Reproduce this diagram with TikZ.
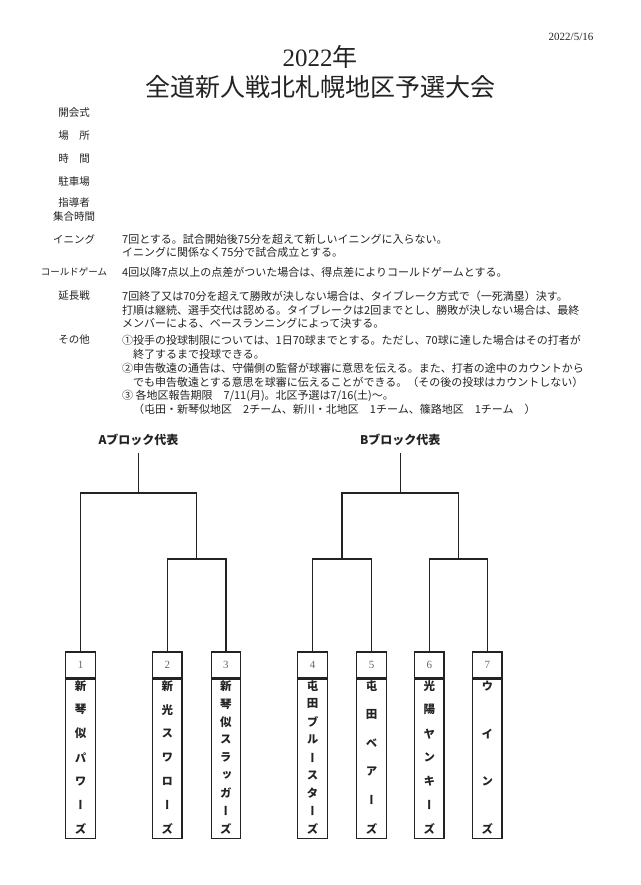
\documentclass[tikz,border=0pt]{standalone}
\usepackage{fontspec}
\setmainfont{Noto Sans CJK JP}
\newfontfamily\numfont{Liberation Serif}
\newfontfamily\teamfont{Noto Sans CJK JP}[RawFeature=+vert]
\usetikzlibrary{positioning}
\definecolor{inkgray}{RGB}{35,35,35}
\definecolor{numgray}{RGB}{105,105,105}
\tikzset{
  bracket/.style={draw=inkgray, line width=1.3pt},
  numbox/.style={rectangle, draw=inkgray, line width=1.3pt,
                 minimum width=29.5pt, minimum height=26pt, inner sep=0pt,
                 font=\numfont\fontsize{11}{11}\selectfont, text=numgray},
  namebox/.style={rectangle, draw=inkgray, line width=1.3pt,
                  minimum width=29.5pt, minimum height=159pt, inner sep=0pt},
  teamchar/.style={inner sep=0pt, text=inkgray,
                   font=\teamfont\bfseries\fontsize{11.5}{12}\selectfont},
  block/.style={inner xsep=0pt, inner ysep=7pt, text=inkgray,
                font=\bfseries\fontsize{12}{12}\selectfont},
  infolabel/.style={inner sep=0pt, align=center, text=inkgray,
                    font=\fontsize{10.5}{14}\selectfont},
  ruletext/.style={anchor=west, inner sep=0pt, text=inkgray,
                   font=\fontsize{11}{13}\selectfont},
  headline/.style={inner sep=0pt, text=inkgray, font=\fontsize{25}{25}\selectfont},
}

\begin{document}
\begin{tikzpicture}[x=1pt, y=-1pt]
  \useasboundingbox[fill=white] (0,0) rectangle (640,885);

  % header
  \node[inner sep=0pt, text=inkgray, font=\numfont\fontsize{11}{11}\selectfont]
        (date) at (571,37) {2022/5/16};
  \node[headline] (title1) at (320,57) {{\numfont 2022}年};
  \node[headline] (title2) at (320,87) {全道新人戦北札幌地区予選大会};

  % meeting details
  \foreach \y/\txt [count=\i] in {113/開会式, 136/場　所, 159/時　間, 182/駐車場}
    \node[infolabel] (info\i) at (74,\y) {\txt};
  \node[infolabel] (info5) at (74,210) {指導者\\集合時間};

  % rules
  \node[infolabel] (rule1) at (74,239) {イニング};
  \node[infolabel, font=\fontsize{9.5}{12}\selectfont] (rule2) at (74,272) {コールドゲーム};
  \node[infolabel] (rule3) at (74,296) {延長戦};
  \node[infolabel] (rule4) at (74,340) {その他};
  \foreach \y/\txt [count=\i] in {
      239/{7回とする。試合開始後75分を超えて新しいイニングに入らない。},
      252/{イニングに関係なく75分で試合成立とする。},
      272/{4回以降7点以上の点差がついた場合は、得点差によりコールドゲームとする。},
      296/{7回終了又は70分を超えて勝敗が決しない場合は、タイブレーク方式で（一死満塁）決す。},
      310/{打順は継続、選手交代は認める。タイブレークは2回までとし、勝敗が決しない場合は、最終},
      323/{メンバーによる、ベースランニングによって決する。},
      340/{①投手の投球制限については、1日70球までとする。ただし、70球に達した場合はその打者が},
      354/{　終了するまで投球できる。},
      368/{②申告敬遠の通告は、守備側の監督が球審に意思を伝える。また、打者の途中のカウントから},
      382/{　でも申告敬遠とする意思を球審に伝えることができる。（その後の投球はカウントしない）},
      396/{③ 各地区報告期限　7/11(月)。北区予選は7/16(土)～。},
      409/{　（屯田・新琴似地区　2チーム、新川・北地区　1チーム、篠路地区　1チーム　）}}
    \node[ruletext] (line\i) at (122,\y) {\txt};

  % teams
  \foreach \x/\no/\m/\chars in {
      80.5/1/7/{新,琴,似,パ,ワ,ー,ズ},
      167.3/2/7/{新,光,ス,ワ,ロ,ー,ズ},
      225.9/3/9/{新,琴,似,ス,ラ,ッ,ガ,ー,ズ},
      312.5/4/9/{屯,田,ブ,ル,ー,ス,タ,ー,ズ},
      371.5/5/6/{屯,田,ベ,ア,ー,ズ},
      429.3/6/7/{光,陽,ヤ,ン,キ,ー,ズ},
      487.3/7/4/{ウ,イ,ン,ズ}} {
    \node[numbox] (n\no) at (\x,665) {\no};
    \node[namebox, below=0pt of n\no] (t\no) {};
    \foreach \ch [count=\k] in \chars
      \node[teamchar] (c\no-\k) at (\x,{686+(\k-1)*143/(\m-1)}) {\ch};
  }

  % bracket
  \coordinate (asemi) at (196.6,559);
  \coordinate (afinal) at (138.5,493);
  \coordinate (bsemi1) at (342,559);
  \coordinate (bsemi2) at (458.3,559);
  \coordinate (bfinal) at (400.2,493);
  \node[block] (ablock) at (138.5,440) {Aブロック代表};
  \node[block] (bblock) at (400.2,440) {Bブロック代表};

  \draw[bracket] (n2.north) |- (asemi) -| (n3.north);
  \draw[bracket] (n1.north) |- (afinal) -| (asemi);
  \draw[bracket] (afinal) -- (ablock);

  \draw[bracket] (n4.north) |- (bsemi1) -| (n5.north);
  \draw[bracket] (n6.north) |- (bsemi2) -| (n7.north);
  \draw[bracket] (bsemi1) |- (bfinal) -| (bsemi2);
  \draw[bracket] (bfinal) -- (bblock);
\end{tikzpicture}
\end{document}
